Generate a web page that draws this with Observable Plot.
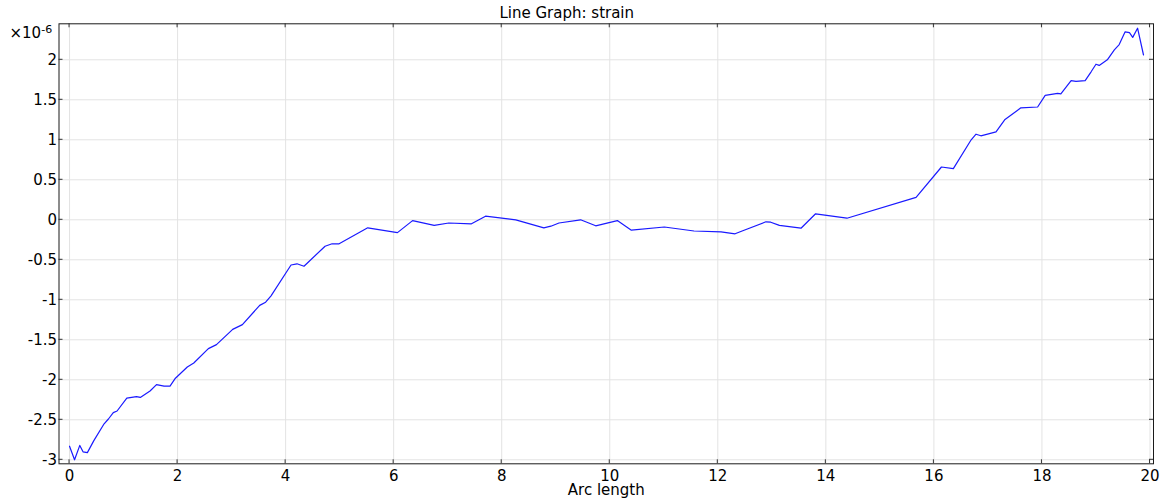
<!DOCTYPE html>
<html>
<head>
<meta charset="utf-8">
<script src="https://cdn.jsdelivr.net/npm/d3@7"></script>
<script src="https://cdn.jsdelivr.net/npm/@observablehq/plot@0.6"></script>
<style>
  html, body { margin: 0; padding: 0; background: #fff; }
  #chart svg { display: block; }
</style>
</head>
<body>
<div id="chart"></div>
<script>
// Arc length
const arcLength = [0, 0.093, 0.19, 0.25, 0.33, 0.45, 0.64, 0.72, 0.81, 0.88, 1.06, 1.24, 1.31, 1.49, 1.61, 1.75, 1.86, 1.96, 2.18, 2.30, 2.57, 2.72, 3.02, 3.20, 3.52, 3.63, 3.73, 4.10, 4.21, 4.34, 4.73, 4.86, 4.99, 5.52, 6.07, 6.35, 6.75, 7.02, 7.44, 7.70, 8.26, 8.78, 8.91, 9.06, 9.46, 9.74, 10.14, 10.40, 11.01, 11.56, 12.06, 12.32, 12.45, 12.89, 12.98, 13.14, 13.54, 13.81, 14.39, 15.67, 16.14, 16.36, 16.69, 16.78, 16.87, 17.15, 17.31, 17.61, 17.92, 18.06, 18.29, 18.35, 18.54, 18.63, 18.80, 18.91, 19.00, 19.06, 19.21, 19.34, 19.43, 19.54, 19.62, 19.68, 19.77, 19.88];
// strain, in units of 1e-6
const strain = [-2.83, -3.0, -2.82, -2.90, -2.91, -2.76, -2.55, -2.49, -2.41, -2.39, -2.23, -2.21, -2.22, -2.14, -2.06, -2.08, -2.08, -1.98, -1.84, -1.79, -1.61, -1.56, -1.37, -1.31, -1.07, -1.03, -0.95, -0.565, -0.55, -0.58, -0.33, -0.30, -0.30, -0.10, -0.16, -0.01, -0.07, -0.04, -0.05, 0.045, 0.0, -0.10, -0.08, -0.04, 0.0, -0.075, -0.01, -0.13, -0.09, -0.14, -0.15, -0.175, -0.14, -0.025, -0.03, -0.07, -0.105, 0.075, 0.02, 0.28, 0.66, 0.64, 1.0, 1.07, 1.05, 1.10, 1.25, 1.40, 1.41, 1.555, 1.58, 1.575, 1.74, 1.73, 1.74, 1.85, 1.945, 1.93, 2.0, 2.125, 2.19, 2.35, 2.34, 2.28, 2.395, 2.06];

const xTicks = [0, 2, 4, 6, 8, 10, 12, 14, 16, 18, 20];
const yTicks = [-3, -2.5, -2, -1.5, -1, -0.5, 0, 0.5, 1, 1.5, 2];
const titleText = "Line Graph: strain";
const xLabelText = "Arc length";

const data = arcLength.map((x, i) => ({x, y: strain[i]}));
const fmt = d => String(d);
const font = "DejaVu Sans, Verdana, sans-serif";
const fs = 15;

const plot = Plot.plot({
  width: 1163,
  height: 501,
  marginLeft: 58.5,
  marginRight: 10,
  marginTop: 23.3,
  marginBottom: 37.7,
  style: {fontFamily: font, fontSize: fs + "px", background: "#fff", color: "#000"},
  x: {domain: [-0.195, 20.065]},
  y: {domain: [-3.05, 2.45]},
  marks: [
    Plot.gridX(xTicks, {stroke: "#e3e3e3", strokeOpacity: 1, strokeWidth: 1}),
    Plot.gridY(yTicks, {stroke: "#e3e3e3", strokeOpacity: 1, strokeWidth: 1}),
    Plot.line(data, {x: "x", y: "y", stroke: "#1a1aff", strokeWidth: 1.2}),
    Plot.frame({stroke: "#1a1a1a", strokeWidth: 1}),
    Plot.axisX(xTicks, {anchor: "bottom", tickSize: 0, tickPadding: 7, tickFormat: fmt, fontSize: fs, label: null}),
    Plot.axisY(yTicks, {anchor: "left", tickSize: 0, tickPadding: 2, tickFormat: fmt, fontSize: fs, label: null}),
    Plot.text([titleText], {frameAnchor: "top", dx: -39.5, dy: -10.5, lineAnchor: "middle", textAnchor: "middle", fontSize: fs, fill: "#000"}),
    Plot.text([xLabelText], {frameAnchor: "bottom", dy: 26, lineAnchor: "middle", textAnchor: "middle", fontSize: fs, fill: "#000"}),
    Plot.text(["×10"], {frameAnchor: "top-left", dx: -49.5, dy: 9.7, lineAnchor: "middle", textAnchor: "start", fontSize: fs, fill: "#000", className: "sci"})
  ]
});
document.getElementById("chart").appendChild(plot);

// inward tick marks on all four sides, positioned with the plot's scales
const sx = plot.scale("x"), sy = plot.scale("y");
const svg = d3.select(plot);
const L = 58.5, R = 1163 - 10, T = 23.3, B = 501 - 37.7, tk = 4;
const g = svg.append("g").attr("stroke", "#333").attr("stroke-width", 1);
xTicks.forEach(t => {
  const px = sx.apply(t);
  g.append("line").attr("x1", px).attr("x2", px).attr("y1", B).attr("y2", B - tk);
  g.append("line").attr("x1", px).attr("x2", px).attr("y1", T).attr("y2", T + tk);
});
yTicks.forEach(t => {
  const py = sy.apply(t);
  g.append("line").attr("x1", L).attr("x2", L + tk).attr("y1", py).attr("y2", py);
  g.append("line").attr("x1", R).attr("x2", R - tk).attr("y1", py).attr("y2", py);
});
// superscript exponent
svg.selectAll("g.sci text").each(function() {
  const t = d3.select(this);
  t.append("tspan").attr("dy", "-0.45em").attr("font-size", 11).text("-6");
});
</script>
</body>
</html>
